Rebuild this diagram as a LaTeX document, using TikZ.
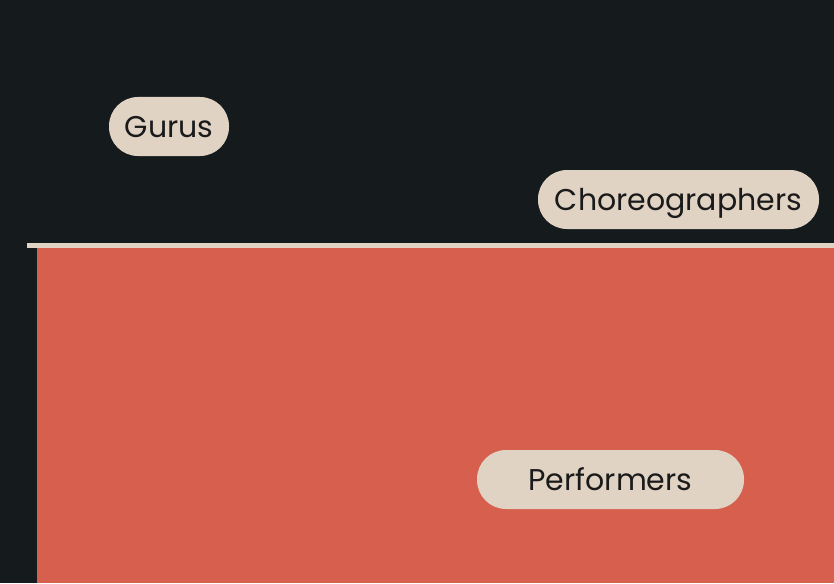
\documentclass[tikz,border=0pt]{standalone}
\usepackage{fontspec}
\setmainfont{Poppins}
\definecolor{bgdark}{HTML}{151A1C}
\definecolor{stage}{HTML}{D6604D}
\definecolor{beige}{HTML}{E0D3C4}
\definecolor{ink}{HTML}{1A1A1A}
\tikzset{
  pill/.style={fill=beige, draw=none, rounded corners=29pt, text=ink,
    font=\fontsize{30}{34}\selectfont, inner sep=0pt, minimum height=59pt,
    text height=21pt, text depth=0pt}
}
\begin{document}
\begin{tikzpicture}[x=1pt,y=-1pt]
\fill[bgdark] (0,0) rectangle (834,583);
\useasboundingbox (0,0) rectangle (834,583);
\fill[stage] (37,247) rectangle (834,583);
\fill[beige] (27,242.5) rectangle (834,247.5);
\node[pill, minimum width=120pt] (gurus) at (169,126.5) {Gurus};
\node[pill, minimum width=281pt] (choreo) at (678.5,199.5) {Choreographers};
\node[pill, minimum width=267pt] (perf) at (610.5,479.5) {Performers};
\end{tikzpicture}
\end{document}
